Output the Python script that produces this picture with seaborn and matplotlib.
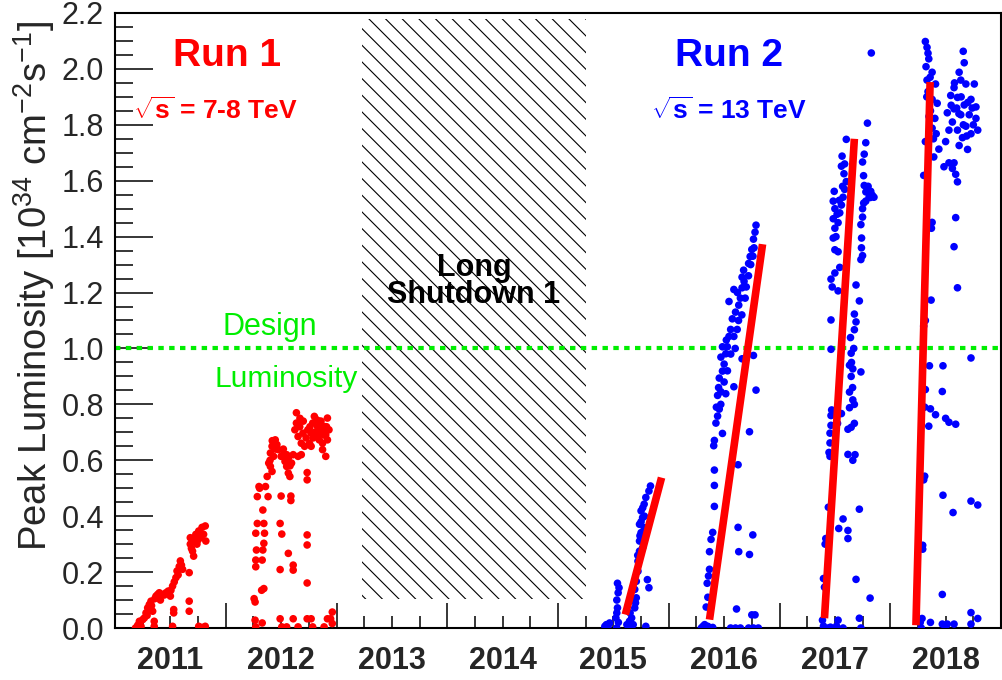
import matplotlib
matplotlib.use("Agg")
import matplotlib.pyplot as plt
from matplotlib.ticker import MultipleLocator, FormatStrFormatter
import seaborn as sns
import pandas as pd

# peak luminosity per fill
# (fraction of the year, peak lumi in 1e34 cm^-2 s^-1)
fills_2011 = [(0.185, 0.00), (0.205, 0.01), (0.22, 0.024), (0.235, 0.006), (0.25, 0.03), (0.265, 0.036),
              (0.28, 0.054), (0.29, 0.045), (0.295, 0.072), (0.31, 0.084), (0.315, 0.065), (0.325, 0.096),
              (0.33, 0.08), (0.34, 0.06), (0.354, 0.024), (0.354, 0.006), (0.36, 0.105), (0.37, 0.114),
              (0.385, 0.12), (0.40, 0.126), (0.41, 0.10), (0.43, 0.12), (0.445, 0.118), (0.46, 0.126),
              (0.48, 0.132), (0.50, 0.114), (0.505, 0.135), (0.52, 0.15), (0.53, 0.066), (0.53, 0.054),
              (0.52, 0.006), (0.535, 0.165), (0.55, 0.18), (0.56, 0.204), (0.57, 0.19), (0.58, 0.22),
              (0.59, 0.24), (0.60, 0.225), (0.61, 0.21), (0.67, 0.198), (0.67, 0.096), (0.67, 0.06),
              (0.68, 0.323), (0.68, 0.30), (0.69, 0.285), (0.70, 0.275), (0.71, 0.257), (0.71, 0.311),
              (0.72, 0.32), (0.73, 0.335), (0.74, 0.30), (0.75, 0.315), (0.756, 0.347), (0.77, 0.323),
              (0.786, 0.36), (0.80, 0.335), (0.815, 0.365), (0.82, 0.311), (0.756, 0.006), (0.786, 0.002),
              (0.815, 0.006)]

fills_2012 = [(0.256, 0.105), (0.265, 0.093), (0.271, 0.243), (0.271, 0.219), (0.277, 0.279), (0.271, 0.339),
              (0.285, 0.374), (0.285, 0.47), (0.300, 0.506), (0.265, 0.028), (0.271, 0.004), (0.329, 0.018),
              (0.306, 0.50), (0.324, 0.135), (0.344, 0.141), (0.335, 0.422), (0.344, 0.374), (0.350, 0.339),
              (0.344, 0.303), (0.335, 0.279), (0.329, 0.243), (0.359, 0.506), (0.374, 0.542), (0.382, 0.47),
              (0.388, 0.59), (0.403, 0.626), (0.418, 0.65), (0.432, 0.661), (0.447, 0.673), (0.462, 0.656),
              (0.476, 0.638), (0.403, 0.578), (0.432, 0.614), (0.418, 0.56), (0.45, 0.64), (0.42, 0.67),
              (0.40, 0.60), (0.500, 0.614), (0.521, 0.62), (0.535, 0.596), (0.550, 0.578), (0.565, 0.554),
              (0.579, 0.542), (0.594, 0.59), (0.609, 0.62), (0.565, 0.608), (0.55, 0.62), (0.52, 0.64),
              (0.58, 0.58), (0.500, 0.472), (0.588, 0.472), (0.588, 0.456), (0.491, 0.374), (0.506, 0.336),
              (0.565, 0.267), (0.609, 0.225), (0.609, 0.207), (0.491, 0.209), (0.491, 0.033), (0.506, 0.004),
              (0.550, 0.004), (0.609, 0.033), (0.653, 0.004), (0.735, 0.556), (0.735, 0.53), (0.735, 0.333),
              (0.735, 0.297), (0.735, 0.161), (0.735, 0.033), (0.771, 0.033), (0.785, 0.004), (0.888, 0.004),
              (0.918, 0.033), (0.947, 0.033), (0.962, 0.057), (0.962, 0.016), (0.624, 0.709), (0.638, 0.77),
              (0.638, 0.733), (0.653, 0.685), (0.668, 0.72), (0.682, 0.661), (0.697, 0.697), (0.712, 0.65),
              (0.653, 0.614), (0.682, 0.62), (0.70, 0.74), (0.67, 0.75), (0.726, 0.68), (0.741, 0.709),
              (0.756, 0.661), (0.771, 0.697), (0.785, 0.733), (0.800, 0.757), (0.815, 0.685), (0.829, 0.72),
              (0.844, 0.673), (0.859, 0.70), (0.874, 0.661), (0.888, 0.721), (0.903, 0.691), (0.918, 0.751),
              (0.932, 0.709), (0.903, 0.614), (0.874, 0.638), (0.844, 0.74), (0.771, 0.65), (0.918, 0.673),
              (0.76, 0.72), (0.80, 0.70), (0.83, 0.69), (0.86, 0.74), (0.89, 0.69), (0.79, 0.68),
              (0.82, 0.745), (0.85, 0.71), (0.88, 0.70), (0.91, 0.72)]

fills_2015 = [(0.423, 0.006), (0.437, 0.012), (0.452, 0.006), (0.466, 0.018), (0.523, 0.036), (0.531, 0.054),
              (0.537, 0.072), (0.531, 0.10), (0.543, 0.126), (0.551, 0.144), (0.537, 0.16), (0.545, 0.02),
              (0.53, 0.0), (0.622, 0.012), (0.645, 0.024), (0.665, 0.036), (0.679, 0.012), (0.651, 0.054),
              (0.66, 0.006), (0.693, 0.072), (0.70, 0.09), (0.707, 0.108), (0.693, 0.138), (0.707, 0.167),
              (0.722, 0.203), (0.72, 0.26), (0.722, 0.239), (0.736, 0.275), (0.736, 0.311), (0.74, 0.33),
              (0.750, 0.341), (0.736, 0.371), (0.75, 0.38), (0.764, 0.395), (0.750, 0.419), (0.765, 0.43),
              (0.78, 0.40), (0.778, 0.443), (0.793, 0.467), (0.821, 0.49), (0.835, 0.508), (0.807, 0.173),
              (0.821, 0.144), (0.793, 0.006), (0.764, 0.287), (0.778, 0.359)]

fills_2016 = [(0.294, 0.0), (0.309, 0.006), (0.324, 0.012), (0.338, 0.0), (0.353, 0.006), (0.368, 0.0),
              (0.397, 0.002), (0.559, 0.0), (0.603, 0.0), (0.647, 0.0), (0.721, 0.0), (0.765, 0.0),
              (0.809, 0.0), (0.315, 0.0), (0.33, 0.003), (0.338, 0.075), (0.353, 0.11), (0.347, 0.16),
              (0.359, 0.186), (0.368, 0.21), (0.368, 0.273), (0.382, 0.317), (0.397, 0.342), (0.412, 0.435),
              (0.412, 0.51), (0.412, 0.565), (0.406, 0.652), (0.412, 0.671), (0.426, 0.733), (0.441, 0.758),
              (0.456, 0.783), (0.43, 0.79), (0.47, 0.80), (0.441, 0.832), (0.471, 0.845), (0.515, 0.838),
              (0.45, 0.86), (0.456, 0.894), (0.50, 0.88), (0.485, 0.919), (0.53, 0.92), (0.500, 0.944),
              (0.471, 0.969), (0.515, 0.981), (0.56, 0.98), (0.529, 1.006), (0.485, 1.006), (0.60, 1.0),
              (0.52, 1.03), (0.544, 1.043), (0.559, 1.068), (0.588, 1.043), (0.618, 1.068), (0.574, 1.106),
              (0.63, 1.10), (0.603, 1.13), (0.66, 1.12), (0.544, 1.168), (0.632, 1.155), (0.647, 1.18),
              (0.69, 1.18), (0.62, 1.20), (0.662, 1.217), (0.70, 1.22), (0.588, 1.211), (0.68, 1.24),
              (0.662, 1.255), (0.676, 1.28), (0.72, 1.26), (0.721, 1.304), (0.74, 1.30), (0.735, 1.329),
              (0.76, 1.33), (0.750, 1.354), (0.77, 1.36), (0.765, 1.391), (0.779, 1.416), (0.788, 1.441),
              (0.588, 0.863), (0.788, 0.851), (0.729, 0.702), (0.626, 0.584), (0.626, 0.36), (0.759, 0.333),
              (0.632, 0.273), (0.729, 0.263), (0.612, 0.068), (0.750, 0.047), (0.779, 0.047), (0.765, 0.975),
              (0.662, 0.963), (0.485, 0.696)]

fills_2017 = [(0.388, 0.028), (0.397, 0.007), (0.441, 0.0), (0.515, 0.007), (0.529, 0.028), (0.574, 0.0),
              (0.721, 0.035), (0.735, 0.0), (0.40, 0.0), (0.46, 0.003), (0.406, 0.146), (0.397, 0.177),
              (0.412, 0.30), (0.418, 0.32), (0.441, 0.432), (0.456, 0.614), (0.447, 0.628), (0.456, 0.662),
              (0.456, 0.697), (0.465, 0.725), (0.465, 0.76), (0.471, 0.78), (0.535, 0.356), (0.574, 0.39),
              (0.618, 0.349), (0.618, 0.32), (0.559, 0.767), (0.524, 0.732), (0.691, 0.174), (0.818, 0.107),
              (0.721, 0.425), (0.618, 0.621), (0.662, 0.60), (0.682, 0.62), (0.647, 0.718), (0.676, 0.732),
              (0.618, 0.711), (0.662, 0.816), (0.632, 0.788), (0.676, 0.80), (0.632, 0.844), (0.647, 0.90),
              (0.662, 0.927), (0.632, 0.94), (0.735, 0.916), (0.647, 0.983), (0.66, 0.86), (0.65, 0.95),
              (0.67, 1.00), (0.641, 1.039), (0.676, 1.067), (0.691, 1.095), (0.676, 1.123), (0.721, 1.17),
              (0.691, 1.227), (0.465, 0.997), (0.465, 1.102), (0.465, 1.248), (0.476, 1.22), (0.529, 1.206),
              (0.544, 1.29), (0.50, 1.27), (0.500, 1.353), (0.529, 1.346), (0.485, 1.395), (0.51, 1.40),
              (0.500, 1.43), (0.485, 1.464), (0.529, 1.45), (0.52, 1.48), (0.544, 1.485), (0.559, 1.513),
              (0.54, 1.53), (0.500, 1.50), (0.485, 1.527), (0.574, 1.541), (0.57, 1.58), (0.588, 1.569),
              (0.494, 1.562), (0.603, 1.597), (0.582, 1.625), (0.559, 1.652), (0.588, 1.66), (0.565, 1.688),
              (0.603, 1.748), (0.735, 1.318), (0.74, 1.36), (0.750, 1.332), (0.741, 1.395), (0.735, 1.443),
              (0.75, 1.47), (0.750, 1.50), (0.76, 1.52), (0.779, 1.527), (0.78, 1.56), (0.809, 1.541),
              (0.80, 1.58), (0.82, 1.54), (0.838, 1.548), (0.853, 1.541), (0.794, 1.562), (0.824, 1.562),
              (0.765, 1.583), (0.759, 1.618), (0.750, 1.667), (0.765, 1.695), (0.779, 1.736), (0.794, 1.806),
              (0.829, 2.057)]

fills_2018 = [(0.271, 0.02), (0.287, 0.034), (0.363, 0.02), (0.470, 0.014), (0.515, 0.014), (0.576, 0.014),
              (0.729, 0.055), (0.729, 0.014), (0.790, 0.034), (0.28, 0.0), (0.50, 0.0), (0.293, 0.282),
              (0.293, 0.296), (0.302, 0.53), (0.311, 0.543), (0.311, 0.79), (0.317, 0.853), (0.348, 0.722),
              (0.363, 0.784), (0.409, 0.763), (0.354, 0.938), (0.302, 1.08), (0.369, 1.173), (0.317, 1.10),
              (0.372, 1.43), (0.378, 1.451), (0.302, 1.619), (0.317, 1.74), (0.470, 0.12), (0.476, 0.475),
              (0.567, 0.413), (0.729, 0.454), (0.790, 0.44), (0.470, 0.846), (0.476, 0.938), (0.500, 0.75),
              (0.530, 0.736), (0.591, 0.729), (0.729, 0.966), (0.576, 1.364), (0.591, 1.468), (0.607, 1.217),
              (0.317, 2.098), (0.332, 2.077), (0.341, 2.056), (0.348, 2.036), (0.323, 2.008), (0.378, 1.988),
              (0.36, 1.97), (0.332, 1.96), (0.409, 1.946), (0.341, 1.919), (0.33, 1.90), (0.378, 1.891),
              (0.424, 1.877), (0.363, 1.85), (0.35, 1.83), (0.403, 1.823), (0.378, 1.788), (0.39, 1.75),
              (0.415, 1.768), (0.439, 1.713), (0.393, 1.685), (0.659, 2.063), (0.668, 2.022), (0.622, 1.988),
              (0.58, 1.95), (0.637, 1.96), (0.576, 1.933), (0.683, 1.946), (0.759, 1.946), (0.546, 1.905),
              (0.64, 1.90), (0.607, 1.898), (0.729, 1.891), (0.70, 1.88), (0.668, 1.871), (0.60, 1.86),
              (0.576, 1.857), (0.55, 1.87), (0.774, 1.864), (0.74, 1.86), (0.515, 1.843), (0.637, 1.836),
              (0.62, 1.84), (0.713, 1.836), (0.774, 1.823), (0.561, 1.81), (0.66, 1.80), (0.683, 1.795),
              (0.75, 1.80), (0.607, 1.781), (0.790, 1.781), (0.530, 1.781), (0.652, 1.754), (0.69, 1.76),
              (0.729, 1.768), (0.622, 1.726), (0.698, 1.712), (0.500, 1.74), (0.485, 1.65), (0.530, 1.664),
              (0.561, 1.644), (0.591, 1.623), (0.607, 1.596), (0.576, 1.664)]

# red ramp-up lines for run 2 (start / end)
ramp_t0 = [2015.608, 2016.368, 2017.406, 2018.232]
ramp_l0 = [0.048, 0.03, 0.035, 0.01]
ramp_t1 = [2015.935, 2016.847, 2017.676, 2018.36]
ramp_l1 = [0.538, 1.373, 1.75, 1.953]

years = [2011, 2012, 2013, 2014, 2015, 2016, 2017, 2018]
ls1_start, ls1_end = 2013.23, 2015.25
design_lumi = 1.0

rows = []
for yr, fills, run in [(2011, fills_2011, "Run 1"), (2012, fills_2012, "Run 1"),
                       (2015, fills_2015, "Run 2"), (2016, fills_2016, "Run 2"),
                       (2017, fills_2017, "Run 2"), (2018, fills_2018, "Run 2")]:
    for frac, lumi in fills:
        rows.append({"t": yr + frac, "lumi": lumi, "run": run})
df = pd.DataFrame(rows)

sns.set_style("ticks")
plt.rcParams["font.family"] = ["Liberation Sans", "DejaVu Sans"]
plt.rcParams["mathtext.fontset"] = "custom"
plt.rcParams["mathtext.rm"] = "Liberation Sans"
plt.rcParams["mathtext.bf"] = "Liberation Sans:bold"
plt.rcParams["hatch.linewidth"] = 0.8

fig = plt.figure(figsize=(10.03, 6.8), dpi=100)
ax = fig.add_axes([115 / 1003, 52 / 680, 886 / 1003, 615 / 680])

# Long Shutdown 1 hatched box
ax.fill_between([ls1_start, ls1_end], 0.105, 2.18, facecolor="none", edgecolor="black",
                hatch="\\\\", linewidth=0, zorder=1)

ax.axhline(design_lumi, color="#00ee00", linewidth=3, linestyle=(0, (1.3, 1.3)), zorder=2)

sns.scatterplot(data=df, x="t", y="lumi", hue="run", palette={"Run 1": "#ff0000", "Run 2": "#0000ff"},
                s=30, linewidth=0, legend=False, ax=ax, zorder=3)

for x0, y0, x1, y1 in zip(ramp_t0, ramp_l0, ramp_t1, ramp_l1):
    ax.plot([x0, x1], [y0, y1], color="#ff0000", linewidth=5.5, solid_capstyle="butt", zorder=4)

ax.set_xlim(2011.0, 2018.87)
ax.set_ylim(0, 2.2)

# x axis: year boundaries as major ticks, quarters as minor, year names at mid-year
ax.set_xticks(years + [2019])
ax.set_xticklabels([])
minor_pos, minor_lab = [], []
for y in years:
    for q in (0.25, 0.5, 0.75):
        minor_pos.append(y + q)
        minor_lab.append(str(y) if q == 0.5 else "")
ax.set_xticks(minor_pos, minor_lab, minor=True)
for lab in ax.get_xticklabels(minor=True):
    lab.set_fontweight("bold")
ax.tick_params(axis="x", which="major", direction="in", length=18, width=1.3, bottom=True, top=False)
ax.tick_params(axis="x", which="minor", direction="in", length=9, width=1.3, labelsize=22, pad=13,
               bottom=True, top=False)

ax.yaxis.set_major_locator(MultipleLocator(0.2))
ax.yaxis.set_minor_locator(MultipleLocator(0.05))
ax.yaxis.set_major_formatter(FormatStrFormatter("%.1f"))
ax.tick_params(axis="y", which="major", direction="in", length=27, width=1.3, labelsize=22, pad=8,
               left=True, right=False)
ax.tick_params(axis="y", which="minor", direction="in", length=13, width=1.3, left=True, right=False)

ax.set_xlabel("")
ax.set_ylabel(r"Peak Luminosity [10$^{34}$ cm$^{-2}$s$^{-1}$]", fontsize=27.5)
ax.yaxis.set_label_coords(-0.066, 0.557)

for sp in ax.spines.values():
    sp.set_linewidth(1.5)
    sp.set_color("black")

ax.text(2012.01, 2.046, "Run 1", color="#ff0000", fontsize=28, fontweight="bold", ha="center", va="center")
ax.text(2011.91, 1.85, r"$\sqrt{\mathbf{s}}$ = 7-8 TeV", color="#ff0000", fontsize=19, fontweight="bold",
        ha="center", va="center")
ax.text(2016.54, 2.046, "Run 2", color="#0000ff", fontsize=28, fontweight="bold", ha="center", va="center")
ax.text(2016.54, 1.85, r"$\sqrt{\mathbf{s}}$ = 13 TeV", color="#0000ff", fontsize=19, fontweight="bold",
        ha="center", va="center")
ax.text(2014.24, 1.24, "Long\nShutdown 1", color="black", fontsize=22, fontweight="bold",
        ha="center", va="center", linespacing=0.9)
ax.text(2012.40, 1.077, "Design", color="#00ee00", fontsize=22, ha="center", va="center")
ax.text(2012.55, 0.89, "Luminosity", color="#00ee00", fontsize=21.5, ha="center", va="center")

fig.savefig("out.png", dpi=100)
